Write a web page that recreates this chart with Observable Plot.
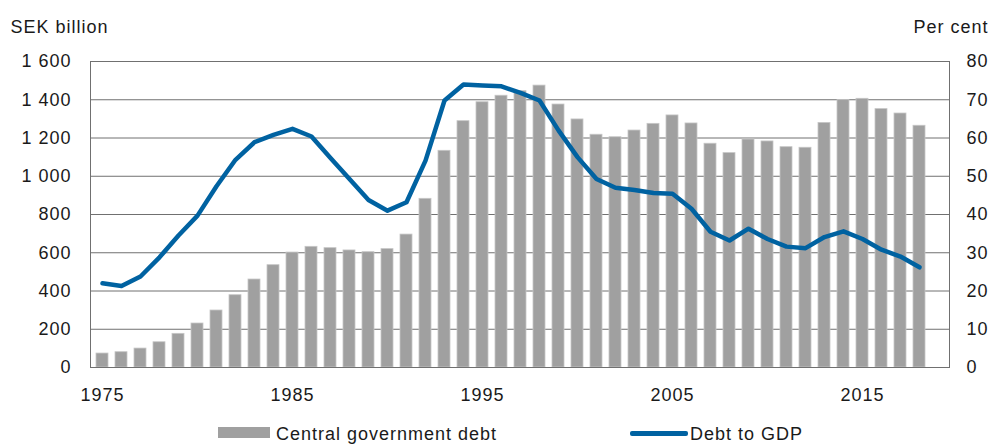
<!DOCTYPE html>
<html><head><meta charset="utf-8">
<script src="https://cdn.jsdelivr.net/npm/d3@7"></script>
<script src="https://cdn.jsdelivr.net/npm/@observablehq/plot@0.6"></script>
<style>
body{margin:0;background:#fff;font-family:"Liberation Sans",Arial,sans-serif;}
#wrap{position:relative;width:991px;height:444px;overflow:hidden;}
.lg{position:absolute;font-size:18px;letter-spacing:1px;line-height:18px;color:#1a1a1a;white-space:nowrap;}
.sw{position:absolute;}
</style></head><body><div id="wrap"></div>
<script>
const years = [1975,1976,1977,1978,1979,1980,1981,1982,1983,1984,1985,1986,1987,1988,1989,1990,1991,1992,1993,1994,1995,1996,1997,1998,1999,2000,2001,2002,2003,2004,2005,2006,2007,2008,2009,2010,2011,2012,2013,2014,2015,2016,2017,2018];
const extraYear = [2019];
const debtSEKbn = [73,80,99,132,176,230,298,378,460,535,601,631,624,612,603,619,695,882,1133,1288,1387,1421,1445,1474,1375,1297,1217,1204,1239,1274,1318,1276,1170,1121,1192,1182,1152,1149,1279,1398,1405,1351,1328,1264];
const debtToGDP = [22.0,21.3,23.8,28.8,34.5,39.7,47.4,54.3,58.9,60.8,62.4,60.4,54.8,49.3,43.8,41.0,43.2,54.1,69.8,74.0,73.7,73.5,71.8,69.8,62.0,55.0,49.3,47.0,46.4,45.6,45.4,41.5,35.5,33.2,36.3,33.6,31.6,31.2,34.1,35.6,33.6,30.8,29.0,26.2];
const leftTicks = [0,200,400,600,800,1000,1200,1400,1600];
const rightTicks = [0,10,20,30,40,50,60,70,80];
const xTicks = [1975,1985,1995,2005,2015];
const leftTitle = "SEK billion";
const rightTitle = "Per cent";
const seriesNames = ["Central government debt","Debt to GDP"];

const barColor = "#a0a0a0", lineColor = "#0062a1", gridColor = "#707070";
const data = years.map((y,i)=>({year:y, debt:debtSEKbn[i], pct:debtToGDP[i]}));
const ratio = leftTicks[leftTicks.length-1] / rightTicks[rightTicks.length-1];
const fmt = d => d3.format(",")(d).replace(/,/g," ");

const chart = Plot.plot({
  width: 991, height: 412,
  marginLeft: 90, marginRight: 42, marginTop: 61, marginBottom: 45,
  style: {fontFamily:"Liberation Sans, Arial, sans-serif", fontSize:"18px", letterSpacing:"1px", color:"#1a1a1a", background:"#fff"},
  x: {type:"band", domain: years.concat(extraYear), paddingInner: 0.39, paddingOuter: 0.195, label: null},
  y: {domain: [0, 1600], label: null},
  marks: [
    Plot.gridY(leftTicks, {stroke: gridColor, strokeOpacity: 1, strokeWidth: 1}),
    Plot.barY(data, {x:"year", y:"debt", fill: barColor, stroke:"#c6c6c6", strokeWidth: 0.8}),
    Plot.frame({stroke: gridColor, strokeWidth: 1}),
    Plot.line(data, {x:"year", y: d => d.pct * ratio, stroke: lineColor, strokeWidth: 4.5, strokeLinejoin:"round", strokeLinecap:"round"}),
    Plot.axisY({anchor:"left", ticks: leftTicks, tickFormat: fmt, tickSize: 0, tickPadding: 19, label: null}),
    Plot.axisY({anchor:"right", ticks: leftTicks, tickFormat: d => rightTicks[leftTicks.indexOf(d)], tickSize: 0, tickPadding: 17, label: null}),
    Plot.axisX({ticks: xTicks, tickFormat: d => String(d), tickSize: 0, tickPadding: 21, label: null}),
    Plot.text([leftTitle], {frameAnchor:"top-left", text: d=>d, textAnchor:"start", lineAnchor:"bottom", dx:-80, dy:-29, fill:"#1a1a1a"}),
    Plot.text([rightTitle], {frameAnchor:"top-right", text: d=>d, textAnchor:"start", lineAnchor:"bottom", dx:-36, dy:-29, fill:"#1a1a1a"})
  ]
});
const wrap = document.getElementById("wrap");
wrap.appendChild(chart);
const add = (cls, css, text) => { const e = document.createElement("div"); e.className = cls; e.style.cssText = css; if (text) e.textContent = text; wrap.appendChild(e); };
add("sw", `left:218px;top:427px;width:52px;height:11px;background:${barColor};`);
add("lg", "left:276px;top:425px;", seriesNames[0]);
add("sw", `left:630px;top:431px;width:58px;height:4.5px;border-radius:2px;background:${lineColor};`);
add("lg", "left:690px;top:425px;", seriesNames[1]);
</script></body></html>
